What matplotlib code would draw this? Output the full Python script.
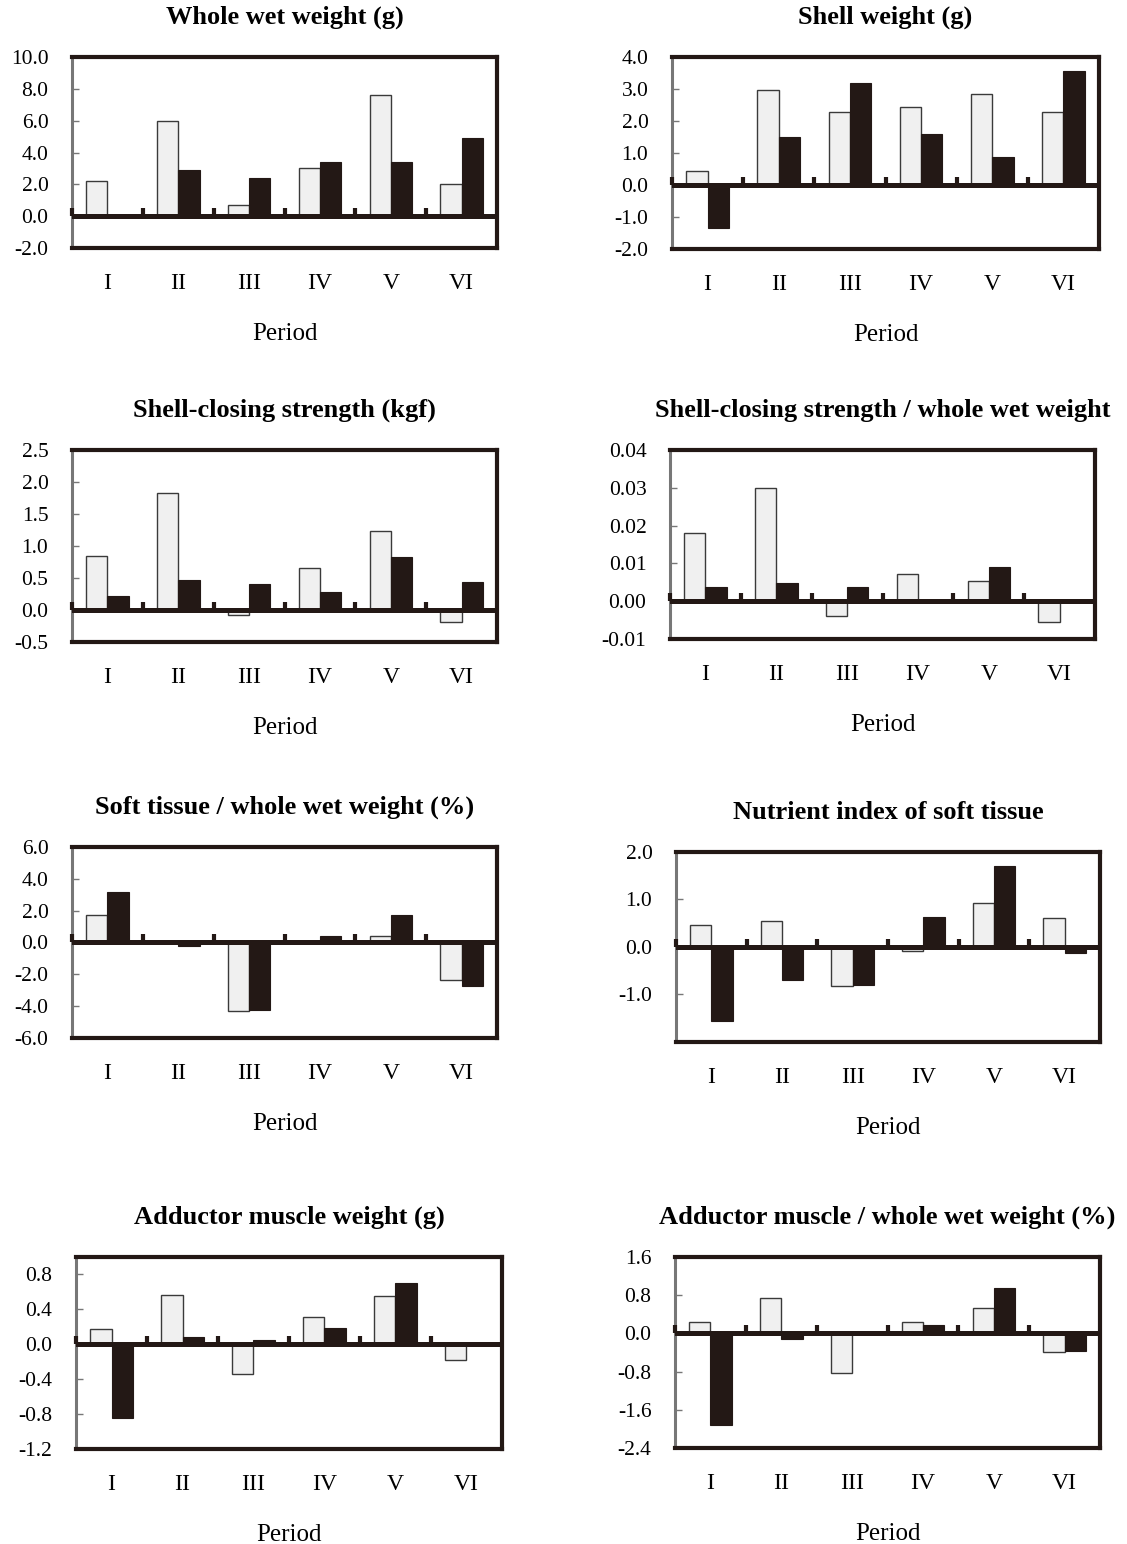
import numpy as np
import matplotlib
matplotlib.use('Agg')
import matplotlib.pyplot as plt

###############################################################################

periods = ['I', 'II', 'III', 'IV', 'V', 'VI']

titles = ['Whole wet weight (g)',
          'Shell weight (g)',
          'Shell-closing strength (kgf)',
          'Shell-closing strength / whole wet weight',
          'Soft tissue / whole wet weight (%)',
          'Nutrient index of soft tissue',
          'Adductor muscle weight (g)',
          'Adductor muscle / whole wet weight (%)']

# Light (grey) bars and dark bars for each period
whole_light = [2.2, 6.0, 0.7, 3.0, 7.6, 2.0]
whole_dark = [0.0, 2.9, 2.4, 3.4, 3.4, 4.9]

shell_light = [0.43, 2.96, 2.28, 2.45, 2.83, 2.28]
shell_dark = [-1.35, 1.51, 3.18, 1.60, 0.87, 3.55]

strength_light = [0.85, 1.83, -0.08, 0.66, 1.23, -0.19]
strength_dark = [0.22, 0.47, 0.41, 0.28, 0.83, 0.43]

strength_ratio_light = [0.018, 0.030, -0.0038, 0.0072, 0.0054, -0.0055]
strength_ratio_dark = [0.0037, 0.0047, 0.0037, 0.0, 0.0090, 0.0]

soft_light = [1.7, 0.0, -4.3, 0.0, 0.38, -2.36]
soft_dark = [3.18, -0.25, -4.25, 0.38, 1.7, -2.72]

nutrient_light = [0.47, 0.54, -0.82, -0.09, 0.93, 0.61]
nutrient_dark = [-1.56, -0.70, -0.80, 0.63, 1.70, -0.13]

adductor_light = [0.17, 0.57, -0.34, 0.31, 0.55, -0.18]
adductor_dark = [-0.84, 0.08, 0.05, 0.19, 0.70, 0.0]

adductor_ratio_light = [0.23, 0.75, -0.83, 0.23, 0.53, -0.39]
adductor_ratio_dark = [-1.91, -0.12, 0.0, 0.18, 0.96, -0.37]

light_data = [whole_light, shell_light, strength_light, strength_ratio_light,
              soft_light, nutrient_light, adductor_light, adductor_ratio_light]
dark_data = [whole_dark, shell_dark, strength_dark, strength_ratio_dark,
             soft_dark, nutrient_dark, adductor_dark, adductor_ratio_dark]

y_limits = [(-2, 10), (-2, 4), (-0.5, 2.5), (-0.01, 0.04),
            (-6, 6), (-2, 2), (-1.2, 1.0), (-2.4, 1.6)]
y_ticks = [np.arange(-2, 10.1, 2), np.arange(-2, 4.1, 1),
           np.arange(-0.5, 2.6, 0.5), np.arange(-0.01, 0.041, 0.01),
           np.arange(-6, 6.1, 2), [-1, 0, 1, 2],
           np.arange(-1.2, 0.81, 0.4), np.arange(-2.4, 1.61, 0.8)]
y_fmt = ['%.1f', '%.1f', '%.1f', '%.2f', '%.1f', '%.1f', '%.1f', '%.1f']

###############################################################################

W, H = 1127, 1544
# Axes boxes in pixels: left, top, right, bottom
boxes = [(72, 57, 497, 248), (672, 57, 1099, 249),
         (72, 450, 497, 642), (670, 450, 1095, 639),
         (72, 847, 497, 1038), (676, 852, 1100, 1042),
         (76, 1257, 502, 1449), (675, 1257, 1100, 1448)]

dark = '#231815'
plt.rcParams['font.family'] = ['Liberation Serif', 'DejaVu Serif']

fig = plt.figure(figsize=(W / 100, H / 100), dpi=100)

x = np.arange(len(periods))
bw = 0.3

for ii in range(8):
    l, t, r, b = boxes[ii]
    ax = fig.add_axes([l / W, 1 - b / H, (r - l) / W, (b - t) / H])

    ax.bar(x - bw / 2, light_data[ii], bw, color='#f0f0f0',
           edgecolor='#3a3a3a', linewidth=1.0, zorder=2)
    ax.bar(x + bw / 2, dark_data[ii], bw, color=dark,
           edgecolor=dark, linewidth=0.8, zorder=2)
    ax.axhline(0, color=dark, linewidth=3.6, zorder=3)

    ax.set_xlim(-0.5, 5.5)
    ax.set_ylim(*y_limits[ii])
    ax.set_yticks(y_ticks[ii])
    ax.set_yticklabels([y_fmt[ii] % v for v in y_ticks[ii]])
    ax.set_xticks(x)
    ax.set_xticklabels(periods)

    ax.tick_params(axis='x', length=0, pad=18, labelsize=17)
    ax.tick_params(axis='y', direction='in', length=5, width=1,
                   color='#777777', pad=17, labelsize=15.5)

    for side in ['top', 'right', 'bottom']:
        ax.spines[side].set_linewidth(3.0)
        ax.spines[side].set_color(dark)
    ax.spines['left'].set_linewidth(2.2)
    ax.spines['left'].set_color('#777777')

    # small marks between the groups on the zero line
    sec = ax.secondary_xaxis(0, transform=ax.transData)
    sec.set_xticks(np.arange(-0.5, 5.0, 1.0))
    sec.set_xticklabels([])
    sec.tick_params(direction='in', length=6, width=3, color=dark)
    for sp in sec.spines.values():
        sp.set_visible(False)
    sec.set_zorder(5)

    ax.set_title(titles[ii], fontsize=19, fontweight='bold', pad=24)
    ax.set_xlabel('Period', fontsize=18, labelpad=21)

fig.savefig('out.png', dpi=100)
